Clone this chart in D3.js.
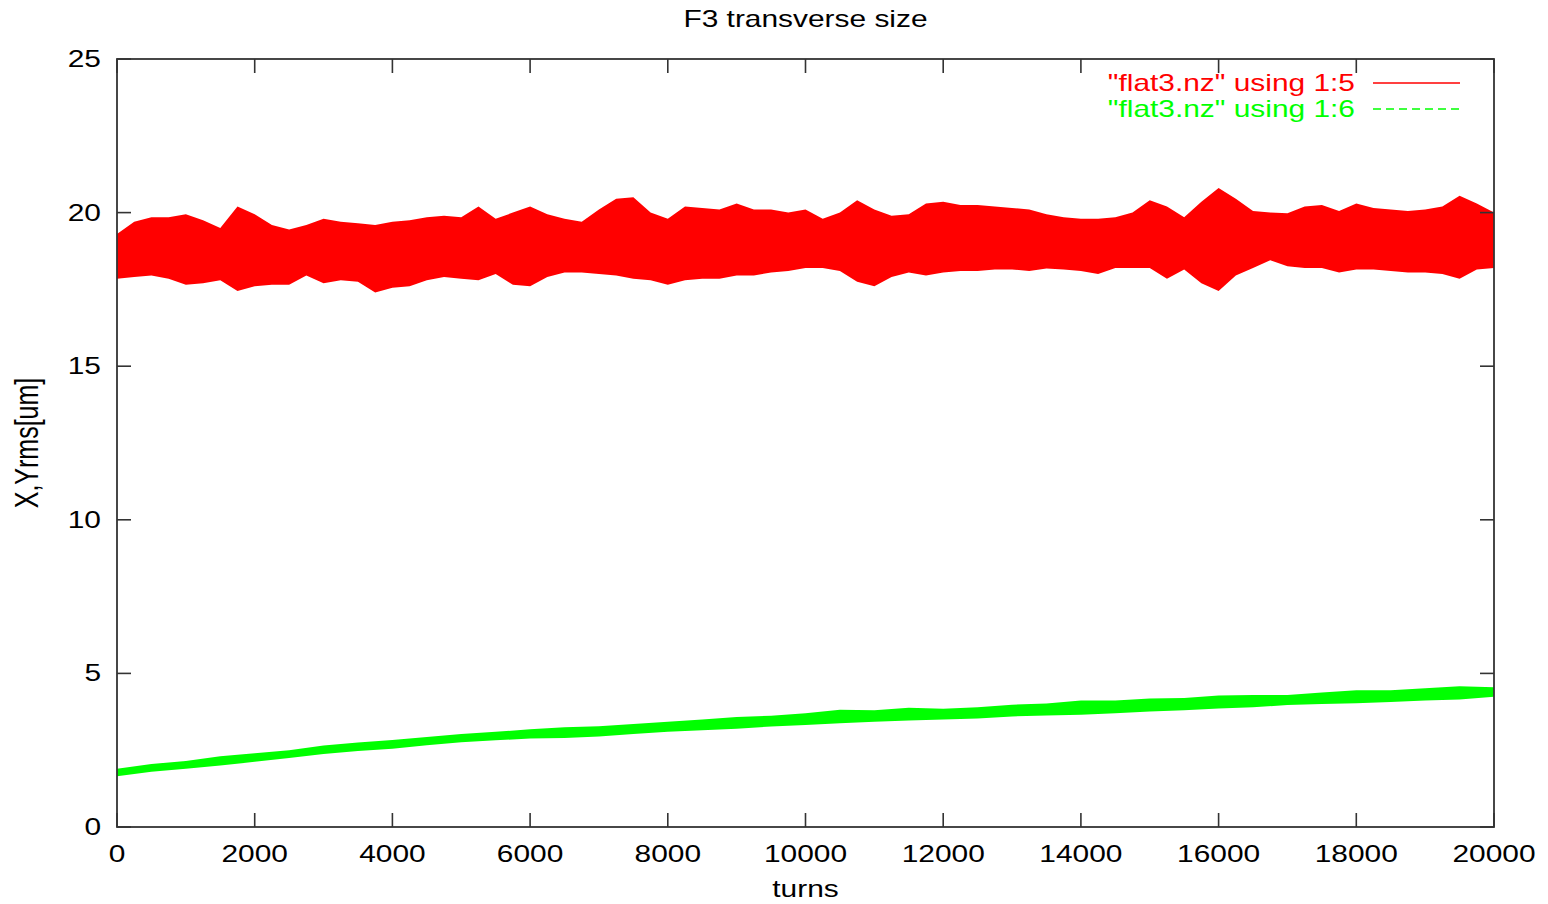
<!DOCTYPE html>
<html lang="en">
<head>
  <meta charset="utf-8"/>
  <title>F3 transverse size</title>
  <script src="https://cdn.jsdelivr.net/npm/d3@7/dist/d3.min.js"></script>
  <style>
    html, body { margin:0; padding:0; background:#fff; overflow:hidden; }
    svg { display:block; }
    .lbl   { font-family:"Liberation Sans", Arial, sans-serif; font-size:23px; fill:#000; }
    .ylab  { font-family:"Liberation Sans", Arial, sans-serif; font-size:25px; fill:#000; }
    .frame { fill:none; stroke:#333; stroke-width:1.8; }
    .tick  { stroke:#333; stroke-width:1.6; }
  </style>
</head>
<body>
<svg width="1548" height="904"></svg>
<script>
const redTurns = [0,250,500,750,1000,1250,1500,1750,2000,2250,2500,2750,3000,3250,3500,3750,
  4000,4250,4500,4750,5000,5250,5500,5750,6000,6250,6500,6750,7000,7250,7500,7750,
  8000,8250,8500,8750,9000,9250,9500,9750,10000,10250,10500,10750,11000,11250,11500,11750,
  12000,12250,12500,12750,13000,13250,13500,13750,14000,14250,14500,14750,15000,15250,15500,15750,
  16000,16250,16500,16750,17000,17250,17500,17750,18000,18250,18500,18750,19000,19250,19500,19750,20000];

// column 5: upper / lower edge of the oscillation
const redHigh = [19.3,19.7,19.85,19.85,19.95,19.75,19.5,20.2,19.95,19.6,19.45,19.6,19.8,19.7,19.65,19.6,
  19.7,19.75,19.85,19.9,19.85,20.2,19.8,20.0,20.2,19.95,19.8,19.7,20.1,20.45,20.5,20.0,
  19.8,20.2,20.15,20.1,20.3,20.1,20.1,20.0,20.1,19.8,20.0,20.4,20.1,19.9,19.95,20.3,
  20.35,20.25,20.25,20.2,20.15,20.1,19.95,19.85,19.8,19.8,19.85,20.0,20.4,20.2,19.85,20.35,
  20.8,20.45,20.05,20.0,19.98,20.2,20.25,20.05,20.3,20.15,20.1,20.05,20.1,20.2,20.55,20.3,20.0];
const redLow = [17.85,17.9,17.95,17.85,17.65,17.7,17.8,17.45,17.6,17.65,17.65,17.95,17.7,17.8,17.75,17.4,
  17.55,17.6,17.8,17.9,17.85,17.8,18.0,17.65,17.6,17.9,18.05,18.05,18.0,17.95,17.85,17.8,
  17.65,17.8,17.85,17.85,17.95,17.95,18.05,18.1,18.2,18.2,18.1,17.75,17.6,17.9,18.05,17.95,
  18.05,18.1,18.1,18.15,18.15,18.1,18.18,18.15,18.1,18.0,18.2,18.2,18.2,17.85,18.15,17.7,
  17.45,17.95,18.2,18.45,18.25,18.2,18.2,18.05,18.15,18.15,18.1,18.05,18.05,18.0,17.85,18.15,18.2];

const greenTurns = [0,500,1000,1500,2000,2500,3000,3500,4000,4500,5000,5500,6000,6500,7000,7500,
  8000,8500,9000,9500,10000,10500,11000,11500,12000,12500,13000,13500,14000,14500,15000,15500,
  16000,16500,17000,17500,18000,18500,19000,19500,20000];
// column 6
const greenHigh = [1.9,2.05,2.15,2.3,2.4,2.5,2.65,2.75,2.83,2.93,3.03,3.1,3.18,3.25,3.28,3.35,
  3.43,3.5,3.58,3.62,3.7,3.82,3.8,3.88,3.85,3.9,3.98,4.02,4.12,4.12,4.18,4.2,
  4.28,4.3,4.3,4.38,4.45,4.45,4.52,4.58,4.55];
const greenLow = [1.65,1.8,1.9,2.0,2.12,2.25,2.38,2.47,2.55,2.66,2.76,2.82,2.88,2.9,2.95,3.03,
  3.1,3.15,3.2,3.27,3.32,3.38,3.43,3.47,3.5,3.53,3.6,3.63,3.65,3.7,3.76,3.8,
  3.86,3.9,3.97,4.0,4.03,4.07,4.12,4.15,4.24];

const xTicks = [0,2000,4000,6000,8000,10000,12000,14000,16000,18000,20000];
const yTicks = [0,5,10,15,20,25];
const legendLabels = ['"flat3.nz" using 1:5', '"flat3.nz" using 1:6'];
const colors = ["#ff0000", "#00ff00"];

const svg = d3.select("svg");
const L = 117, R = 1494, T = 59, B = 827;
const x = d3.scaleLinear().domain([0, 20000]).range([L, R]);
const y = d3.scaleLinear().domain([0, 25]).range([B, T]);
const TK = 14;
const SX = 1.3;   // the original's lettering is stretched sideways

function label(px, py, s, anchor) {
  return svg.append("text").attr("class","lbl")
    .attr("transform", `translate(${px},${py}) scale(${SX},1)`)
    .attr("text-anchor", anchor).text(s);
}

// bands
const band = (turns, lo, hi) => d3.area()
  .x((d,i) => x(turns[i]))
  .y0((d,i) => y(lo[i]))
  .y1((d,i) => y(hi[i]));

svg.append("path")
  .attr("d", band(redTurns, redLow, redHigh)(redTurns))
  .attr("fill", colors[0]);
svg.append("path")
  .attr("d", band(greenTurns, greenLow, greenHigh)(greenTurns))
  .attr("fill", colors[1]);

// frame + mirrored ticks, gnuplot style
svg.append("rect").attr("class","frame")
  .attr("x", L).attr("y", T).attr("width", R-L).attr("height", B-T);

xTicks.forEach(v => {
  svg.append("line").attr("class","tick")
    .attr("x1", x(v)).attr("x2", x(v)).attr("y1", B).attr("y2", B-TK);
  svg.append("line").attr("class","tick")
    .attr("x1", x(v)).attr("x2", x(v)).attr("y1", T).attr("y2", T+TK);
  label(x(v), 862, v, "middle");
});
yTicks.forEach(v => {
  svg.append("line").attr("class","tick")
    .attr("x1", L).attr("x2", L+TK).attr("y1", y(v)).attr("y2", y(v));
  svg.append("line").attr("class","tick")
    .attr("x1", R).attr("x2", R-TK).attr("y1", y(v)).attr("y2", y(v));
  label(101, y(v) + 8, v, "end");
});

// titles
label((L+R)/2, 27, "F3 transverse size", "middle");
label((L+R)/2, 897, "turns", "middle");
svg.append("text").attr("class","ylab")
  .attr("transform", `translate(38,${(T+B)/2}) rotate(-90) scale(1,${SX})`)
  .attr("text-anchor","middle").text("X,Yrms[um]");

// legend
legendLabels.forEach((s, i) => {
  const ly = 83 + i*26;
  label(1355, ly + 8, s, "end").style("fill", colors[i]);
  svg.append("line")
    .attr("x1", 1373).attr("x2", 1460).attr("y1", ly).attr("y2", ly)
    .attr("stroke", colors[i]).attr("stroke-width", 1.5)
    .attr("stroke-dasharray", i ? "8,5" : null);
});
</script>
</body>
</html>
